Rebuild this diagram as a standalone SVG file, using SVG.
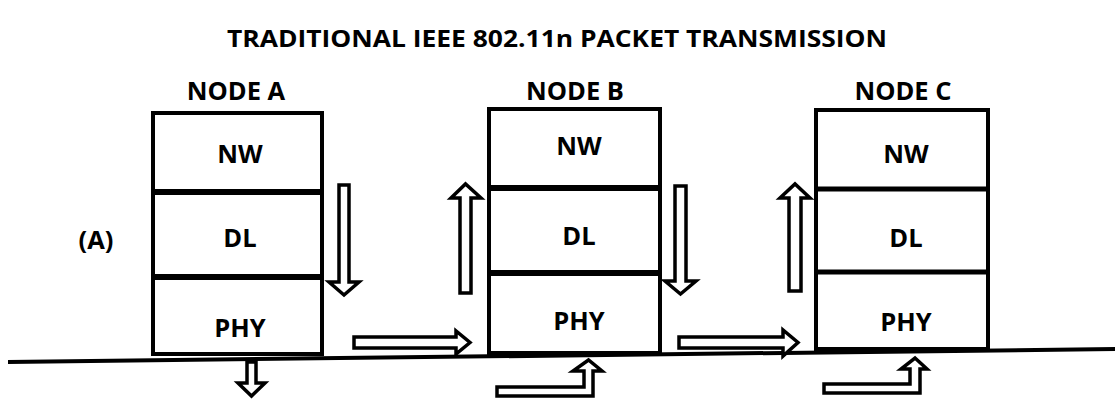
<svg xmlns="http://www.w3.org/2000/svg" width="1115" height="399" viewBox="0 0 1115 399">
<style>
text{font-family:"Open Sans","Liberation Sans",sans-serif;font-weight:bold;fill:#000;text-anchor:middle}
.t{font-size:24px}
.lab{font-size:25.5px}
.box{fill:#fff;stroke:#000;stroke-width:4}
.div{stroke:#000;stroke-width:6}
.arr{fill:#fff;stroke:#000;stroke-width:3.5;stroke-linejoin:miter}
</style>
<rect width="1115" height="399" fill="#fff"/>
<text class="t" x="557" y="47" textLength="660" lengthAdjust="spacingAndGlyphs">TRADITIONAL IEEE 802.11n  PACKET TRANSMISSION</text>
<text class="lab" x="96" y="249">(A)</text>
<g id="nodeA">
<rect class="box" x="153" y="113" width="169" height="241"/>
<line class="div" x1="153" y1="192" x2="322" y2="192"/>
<line class="div" x1="153" y1="277" x2="322" y2="277"/>
<text class="lab" x="236" y="100">NODE A</text>
<text class="lab" x="240" y="163">NW</text>
<text class="lab" x="240" y="247">DL</text>
<text class="lab" x="240" y="337">PHY</text>
</g>
<g id="nodeB">
<rect class="box" x="489" y="109" width="171" height="244"/>
<line class="div" x1="489" y1="188" x2="660" y2="188"/>
<line class="div" x1="489" y1="273" x2="660" y2="273"/>
<text class="lab" x="575" y="100">NODE B</text>
<text class="lab" x="579" y="155">NW</text>
<text class="lab" x="579" y="245">DL</text>
<text class="lab" x="579" y="330">PHY</text>
</g>
<g id="nodeC">
<rect class="box" x="816" y="110" width="172" height="239"/>
<line class="div" x1="816" y1="189" x2="988" y2="189" style="stroke-width:5"/>
<line class="div" x1="816" y1="272" x2="988" y2="272" style="stroke-width:5"/>
<text class="lab" x="903" y="100">NODE C</text>
<text class="lab" x="906" y="163">NW</text>
<text class="lab" x="906" y="247">DL</text>
<text class="lab" x="906" y="331">PHY</text>
</g>
<g id="connectors">
<line x1="8" y1="362" x2="1115" y2="349" stroke="#000" stroke-width="4"/>
<path class="arr" d="M339,185 H349 V282 H359 L344,295 L329,282 H339 Z"/>
<path class="arr" d="M460,293 V198 H451 L465.5,184 L481,198 H471 V293 Z"/>
<path class="arr" d="M675,186 H686 V281 H696 L680.5,294 L665,281 H675 Z"/>
<path class="arr" d="M789,291 V198 H780 L795,184 L810,198 H801 V291 Z"/>
<path class="arr" d="M354,337 H456 V331 L470,342.5 L456,354 V348 H354 Z"/>
<path class="arr" d="M679,337 H783 V330 L798,342.5 L783,356 V348 H679 Z"/>
<path class="arr" d="M497,387 H584 V371 H573 L588.5,360 L602,371 H593 V396 H497 Z"/>
<path class="arr" d="M824,384 H910 V369 H901 L915,358 L927,369 H920 V393 H824 Z"/>
<path class="arr" d="M247,362 V383 H238 L251.5,396 L265,383 H256 V362 Z"/>
</g>
</svg>
